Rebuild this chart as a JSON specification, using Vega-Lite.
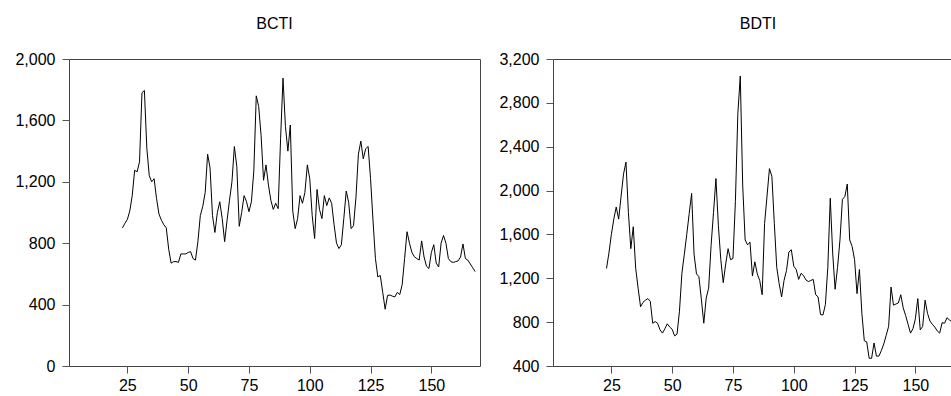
{
  "$schema": "https://vega.github.io/schema/vega-lite/v6.json",
  "padding": {"left": 14, "top": 15, "right": 0, "bottom": 0},
  "autosize": {"type": "pad"},
  "background": "white",
  "spacing": 17,
  "config": {
    "font": "Liberation Sans",
    "axis": {"labelFont": "Liberation Sans", "labelFontSize": 16, "labelColor": "#000", "tickColor": "#555", "domainColor": "#555", "grid": false, "tickSize": 7},
    "axisY": {"labelPadding": 7},
    "axisX": {"labelPadding": 4},
    "title": {"fontSize": 16, "fontWeight": "normal", "font": "Liberation Sans", "color": "#000", "offset": 19},
    "view": {"stroke": "#444"}
  },
  "datasets": {
    "bcti": [
      {"obs": 23, "value": 900}, {"obs": 24, "value": 930}, {"obs": 25, "value": 955}, {"obs": 26, "value": 1010},
      {"obs": 27, "value": 1110}, {"obs": 28, "value": 1275}, {"obs": 29, "value": 1265}, {"obs": 30, "value": 1330},
      {"obs": 31, "value": 1780}, {"obs": 32, "value": 1795}, {"obs": 33, "value": 1420}, {"obs": 34, "value": 1240},
      {"obs": 35, "value": 1200}, {"obs": 36, "value": 1220}, {"obs": 37, "value": 1090}, {"obs": 38, "value": 990},
      {"obs": 39, "value": 950}, {"obs": 40, "value": 920}, {"obs": 41, "value": 900}, {"obs": 42, "value": 760},
      {"obs": 43, "value": 670}, {"obs": 44, "value": 680}, {"obs": 45, "value": 680}, {"obs": 46, "value": 675},
      {"obs": 47, "value": 730}, {"obs": 48, "value": 730}, {"obs": 49, "value": 730}, {"obs": 50, "value": 740},
      {"obs": 51, "value": 745}, {"obs": 52, "value": 700}, {"obs": 53, "value": 690}, {"obs": 54, "value": 810},
      {"obs": 55, "value": 980}, {"obs": 56, "value": 1040}, {"obs": 57, "value": 1130}, {"obs": 58, "value": 1380},
      {"obs": 59, "value": 1290}, {"obs": 60, "value": 980}, {"obs": 61, "value": 870}, {"obs": 62, "value": 1000},
      {"obs": 63, "value": 1070}, {"obs": 64, "value": 960}, {"obs": 65, "value": 810}, {"obs": 66, "value": 950},
      {"obs": 67, "value": 1080}, {"obs": 68, "value": 1200}, {"obs": 69, "value": 1430}, {"obs": 70, "value": 1300},
      {"obs": 71, "value": 910}, {"obs": 72, "value": 1000}, {"obs": 73, "value": 1110}, {"obs": 74, "value": 1070},
      {"obs": 75, "value": 1005}, {"obs": 76, "value": 1070}, {"obs": 77, "value": 1270}, {"obs": 78, "value": 1760},
      {"obs": 79, "value": 1690}, {"obs": 80, "value": 1500}, {"obs": 81, "value": 1210}, {"obs": 82, "value": 1310},
      {"obs": 83, "value": 1180}, {"obs": 84, "value": 1080}, {"obs": 85, "value": 1020}, {"obs": 86, "value": 1060},
      {"obs": 87, "value": 1025}, {"obs": 88, "value": 1480}, {"obs": 89, "value": 1875}, {"obs": 90, "value": 1560},
      {"obs": 91, "value": 1400}, {"obs": 92, "value": 1570}, {"obs": 93, "value": 1010}, {"obs": 94, "value": 895},
      {"obs": 95, "value": 960}, {"obs": 96, "value": 1110}, {"obs": 97, "value": 1060}, {"obs": 98, "value": 1130},
      {"obs": 99, "value": 1310}, {"obs": 100, "value": 1220}, {"obs": 101, "value": 980}, {"obs": 102, "value": 830},
      {"obs": 103, "value": 1150}, {"obs": 104, "value": 1020}, {"obs": 105, "value": 960}, {"obs": 106, "value": 1110},
      {"obs": 107, "value": 1045}, {"obs": 108, "value": 1095}, {"obs": 109, "value": 1060}, {"obs": 110, "value": 920},
      {"obs": 111, "value": 800}, {"obs": 112, "value": 765}, {"obs": 113, "value": 790}, {"obs": 114, "value": 960},
      {"obs": 115, "value": 1140}, {"obs": 116, "value": 1065}, {"obs": 117, "value": 895}, {"obs": 118, "value": 915},
      {"obs": 119, "value": 1100}, {"obs": 120, "value": 1380}, {"obs": 121, "value": 1465}, {"obs": 122, "value": 1350},
      {"obs": 123, "value": 1415}, {"obs": 124, "value": 1430}, {"obs": 125, "value": 1220}, {"obs": 126, "value": 950},
      {"obs": 127, "value": 700}, {"obs": 128, "value": 580}, {"obs": 129, "value": 590}, {"obs": 130, "value": 480},
      {"obs": 131, "value": 370}, {"obs": 132, "value": 460}, {"obs": 133, "value": 462}, {"obs": 134, "value": 455},
      {"obs": 135, "value": 450}, {"obs": 136, "value": 480}, {"obs": 137, "value": 465}, {"obs": 138, "value": 530},
      {"obs": 139, "value": 700}, {"obs": 140, "value": 875}, {"obs": 141, "value": 800}, {"obs": 142, "value": 740},
      {"obs": 143, "value": 712}, {"obs": 144, "value": 700}, {"obs": 145, "value": 690}, {"obs": 146, "value": 815},
      {"obs": 147, "value": 710}, {"obs": 148, "value": 650}, {"obs": 149, "value": 635}, {"obs": 150, "value": 740},
      {"obs": 151, "value": 790}, {"obs": 152, "value": 670}, {"obs": 153, "value": 645}, {"obs": 154, "value": 800},
      {"obs": 155, "value": 850}, {"obs": 156, "value": 800}, {"obs": 157, "value": 700}, {"obs": 158, "value": 680},
      {"obs": 159, "value": 675}, {"obs": 160, "value": 680}, {"obs": 161, "value": 685}, {"obs": 162, "value": 710},
      {"obs": 163, "value": 795}, {"obs": 164, "value": 700}, {"obs": 165, "value": 690}, {"obs": 166, "value": 665},
      {"obs": 167, "value": 640}, {"obs": 168, "value": 615}
    ],
    "bdti": [
      {"obs": 23, "value": 1290}, {"obs": 24, "value": 1430}, {"obs": 25, "value": 1600}, {"obs": 26, "value": 1740},
      {"obs": 27, "value": 1850}, {"obs": 28, "value": 1740}, {"obs": 29, "value": 1950}, {"obs": 30, "value": 2150},
      {"obs": 31, "value": 2260}, {"obs": 32, "value": 1800}, {"obs": 33, "value": 1470}, {"obs": 34, "value": 1670},
      {"obs": 35, "value": 1290}, {"obs": 36, "value": 1110}, {"obs": 37, "value": 940}, {"obs": 38, "value": 980},
      {"obs": 39, "value": 1000}, {"obs": 40, "value": 1015}, {"obs": 41, "value": 990}, {"obs": 42, "value": 790},
      {"obs": 43, "value": 805}, {"obs": 44, "value": 790}, {"obs": 45, "value": 730}, {"obs": 46, "value": 700},
      {"obs": 47, "value": 740}, {"obs": 48, "value": 785}, {"obs": 49, "value": 755}, {"obs": 50, "value": 735},
      {"obs": 51, "value": 675}, {"obs": 52, "value": 690}, {"obs": 53, "value": 900}, {"obs": 54, "value": 1245},
      {"obs": 55, "value": 1420}, {"obs": 56, "value": 1600}, {"obs": 57, "value": 1790}, {"obs": 58, "value": 1975},
      {"obs": 59, "value": 1420}, {"obs": 60, "value": 1240}, {"obs": 61, "value": 1215}, {"obs": 62, "value": 1010},
      {"obs": 63, "value": 790}, {"obs": 64, "value": 1020}, {"obs": 65, "value": 1110}, {"obs": 66, "value": 1500},
      {"obs": 67, "value": 1800}, {"obs": 68, "value": 2110}, {"obs": 69, "value": 1680}, {"obs": 70, "value": 1370},
      {"obs": 71, "value": 1160}, {"obs": 72, "value": 1330}, {"obs": 73, "value": 1470}, {"obs": 74, "value": 1370},
      {"obs": 75, "value": 1380}, {"obs": 76, "value": 1900}, {"obs": 77, "value": 2700}, {"obs": 78, "value": 3045},
      {"obs": 79, "value": 2050}, {"obs": 80, "value": 1550}, {"obs": 81, "value": 1505}, {"obs": 82, "value": 1530},
      {"obs": 83, "value": 1220}, {"obs": 84, "value": 1350}, {"obs": 85, "value": 1240}, {"obs": 86, "value": 1180},
      {"obs": 87, "value": 1050}, {"obs": 88, "value": 1700}, {"obs": 89, "value": 1950}, {"obs": 90, "value": 2200},
      {"obs": 91, "value": 2130}, {"obs": 92, "value": 1700}, {"obs": 93, "value": 1300}, {"obs": 94, "value": 1150},
      {"obs": 95, "value": 1030}, {"obs": 96, "value": 1180}, {"obs": 97, "value": 1270}, {"obs": 98, "value": 1440},
      {"obs": 99, "value": 1460}, {"obs": 100, "value": 1310}, {"obs": 101, "value": 1280}, {"obs": 102, "value": 1190},
      {"obs": 103, "value": 1245}, {"obs": 104, "value": 1225}, {"obs": 105, "value": 1185}, {"obs": 106, "value": 1170},
      {"obs": 107, "value": 1180}, {"obs": 108, "value": 1190}, {"obs": 109, "value": 1050}, {"obs": 110, "value": 1030},
      {"obs": 111, "value": 870}, {"obs": 112, "value": 865}, {"obs": 113, "value": 960}, {"obs": 114, "value": 1300},
      {"obs": 115, "value": 1930}, {"obs": 116, "value": 1430}, {"obs": 117, "value": 1100}, {"obs": 118, "value": 1300},
      {"obs": 119, "value": 1550}, {"obs": 120, "value": 1920}, {"obs": 121, "value": 1945}, {"obs": 122, "value": 2060},
      {"obs": 123, "value": 1550}, {"obs": 124, "value": 1490}, {"obs": 125, "value": 1370}, {"obs": 126, "value": 1060},
      {"obs": 127, "value": 1280}, {"obs": 128, "value": 880}, {"obs": 129, "value": 630}, {"obs": 130, "value": 620},
      {"obs": 131, "value": 470}, {"obs": 132, "value": 470}, {"obs": 133, "value": 610}, {"obs": 134, "value": 490},
      {"obs": 135, "value": 490}, {"obs": 136, "value": 540}, {"obs": 137, "value": 600}, {"obs": 138, "value": 680},
      {"obs": 139, "value": 760}, {"obs": 140, "value": 1120}, {"obs": 141, "value": 955}, {"obs": 142, "value": 965},
      {"obs": 143, "value": 975}, {"obs": 144, "value": 1050}, {"obs": 145, "value": 930}, {"obs": 146, "value": 860},
      {"obs": 147, "value": 780}, {"obs": 148, "value": 700}, {"obs": 149, "value": 740}, {"obs": 150, "value": 830},
      {"obs": 151, "value": 1015}, {"obs": 152, "value": 730}, {"obs": 153, "value": 760}, {"obs": 154, "value": 1000},
      {"obs": 155, "value": 880}, {"obs": 156, "value": 810}, {"obs": 157, "value": 780}, {"obs": 158, "value": 755},
      {"obs": 159, "value": 720}, {"obs": 160, "value": 700}, {"obs": 161, "value": 795}, {"obs": 162, "value": 790},
      {"obs": 163, "value": 840}, {"obs": 164, "value": 820}, {"obs": 165, "value": 805}, {"obs": 166, "value": 800},
      {"obs": 167, "value": 790}
    ]
  },
  "hconcat": [
    {
      "title": "BCTI",
      "width": 411,
      "height": 307,
      "data": {"name": "bcti"},
      "mark": {"type": "line", "color": "#000", "strokeWidth": 1, "clip": true},
      "encoding": {
        "x": {"field": "obs", "type": "quantitative", "scale": {"domain": [1, 170], "nice": false, "zero": false},
              "axis": {"values": [25, 50, 75, 100, 125, 150], "domain": false, "title": null}},
        "y": {"field": "value", "type": "quantitative", "scale": {"domain": [0, 2000], "nice": false, "zero": false},
              "axis": {"values": [0, 400, 800, 1200, 1600, 2000], "format": ",d", "domain": false, "title": null}}
      }
    },
    {
      "title": {"text": "BDTI", "dx": 6},
      "width": 398,
      "height": 307,
      "view": {"stroke": null},
      "data": {"name": "bdti"},
      "layer": [
        {
          "mark": {"type": "line", "color": "#000", "strokeWidth": 1, "clip": true},
          "encoding": {
            "x": {"field": "obs", "type": "quantitative", "scale": {"domain": [1, 164.65], "nice": false, "zero": false},
                  "axis": {"values": [25, 50, 75, 100, 125, 150], "domain": true, "domainColor": "#444", "title": null}},
            "y": {"field": "value", "type": "quantitative", "scale": {"domain": [400, 3200], "nice": false, "zero": false},
                  "axis": {"values": [400, 800, 1200, 1600, 2000, 2400, 2800, 3200], "format": ",d", "domain": true, "domainColor": "#444", "title": null}}
          }
        },
        {
          "mark": {"type": "line", "opacity": 0, "clip": true},
          "encoding": {
            "x": {"field": "obs", "type": "quantitative",
                  "axis": {"orient": "top", "labels": false, "ticks": false, "domain": true, "domainColor": "#444", "title": null}},
            "y": {"field": "value", "type": "quantitative",
                  "axis": {"values": [400, 800, 1200, 1600, 2000, 2400, 2800, 3200], "format": ",d", "domain": true, "domainColor": "#444", "title": null}}
          }
        }
      ],
      "resolve": {"axis": {"x": "independent"}}
    }
  ]
}
